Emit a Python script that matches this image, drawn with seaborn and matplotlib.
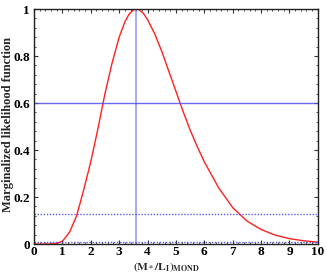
import numpy as np
import pandas as pd
import matplotlib
matplotlib.use("Agg")
import matplotlib.pyplot as plt
from matplotlib.ticker import MultipleLocator
import seaborn as sns

# values
ml_ratio = [0.0, 0.5, 0.8, 1.0, 1.25, 1.5, 1.75, 2.0, 2.25, 2.5, 2.75, 3.0,
            3.2, 3.35, 3.5, 3.6, 3.7, 3.85, 4.0, 4.25, 4.5, 4.75, 5.0, 5.25,
            5.5, 5.75, 6.0, 6.5, 7.0, 7.5, 8.0, 8.5, 9.0, 9.5, 10.0]
likelihood = [0.0, 0.0, 0.003, 0.012, 0.05, 0.12, 0.23, 0.35, 0.49, 0.64,
              0.77, 0.88, 0.945, 0.978, 0.996, 1.0, 0.997, 0.982, 0.955, 0.895,
              0.82, 0.735, 0.65, 0.565, 0.485, 0.415, 0.35, 0.24, 0.155,
              0.098, 0.062, 0.038, 0.023, 0.014, 0.008]
peak_x = 3.6
level_solid = 0.6
level_dotted = [0.13, 0.01]

df = pd.DataFrame({"ml": ml_ratio, "L": likelihood})

sns.set_style("ticks")
plt.rcParams["font.family"] = ["Liberation Serif", "DejaVu Serif"]
plt.rcParams["mathtext.fontset"] = "stix"

fig = plt.figure(figsize=(3.27, 2.73), dpi=100)
ax = fig.add_axes([0.104, 0.106, 0.868, 0.861])

sns.lineplot(data=df, x="ml", y="L", ax=ax, color="#ff2020", linewidth=1.0)
ax.axvline(peak_x, color="#8080ff", linewidth=1.2, alpha=0.8)
ax.axhline(level_solid, color="#5050ee", linewidth=1.0, alpha=0.85)
for lv in level_dotted:
    ax.axhline(lv, color="#4040ee", linewidth=1.0, linestyle=(0, (1, 1.2)), alpha=0.85)

ax.set_xlim(0, 10)
ax.set_ylim(0, 1)
ax.xaxis.set_major_locator(MultipleLocator(1))
ax.xaxis.set_minor_locator(MultipleLocator(0.2))
ax.yaxis.set_minor_locator(MultipleLocator(0.04))
ax.set_yticks([0, 0.2, 0.4, 0.6, 0.8, 1.0])
ax.set_yticklabels(["0", "0.2", "0.4", "0.6", "0.8", "1"])
ax.tick_params(which="both", direction="in", top=True, right=True, colors="#333333",
               labelcolor="black")
ax.tick_params(which="major", length=3, width=0.8, labelsize=9.5, pad=3)
ax.tick_params(axis="x", which="major", pad=1.5)
ax.tick_params(which="minor", length=1.5, width=0.6)
for lab in ax.get_xticklabels() + ax.get_yticklabels():
    lab.set_fontweight("bold")
for sp in ax.spines.values():
    sp.set_linewidth(1.0)
    sp.set_color("#222222")

ax.set_ylabel("Marginalized likelihood function", fontsize=9, fontweight="bold")
ax.yaxis.set_label_coords(-0.07, 0.508)
ax.set_xlabel(r"$\mathbf{(M_*/L_I)_{MOND}}$", fontsize=8.2)
ax.xaxis.set_label_coords(0.465, -0.068)

fig.savefig("out.png", dpi=100)
